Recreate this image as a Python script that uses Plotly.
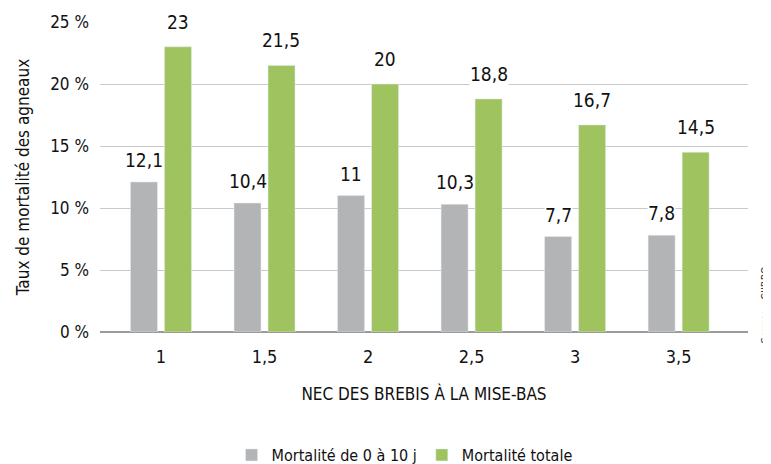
import plotly.graph_objects as go

categories = ["1", "1,5", "2", "2,5", "3", "3,5"]
mort_0_10 = [12.1, 10.4, 11, 10.3, 7.7, 7.8]
mort_totale = [23, 21.5, 20, 18.8, 16.7, 14.5]
series_names = ["Mortalité de 0 à 10 j", "Mortalité totale"]
y_ticks = [0, 5, 10, 15, 20, 25]
y_tick_labels = ["0 %", "5 %", "10 %", "15 %", "20 %", "25 %"]

FONT = "DejaVu Sans"
GRAY = "#b3b4b6"
GREEN = "#9fc45f"


def c(s):
    return '<span style="font-stretch:condensed">' + s + "</span>"


xs = list(range(len(categories)))

fig = go.Figure()
fig.add_trace(go.Bar(x=xs, y=mort_0_10, name=c(series_names[0]), marker_color=GRAY))
fig.add_trace(go.Bar(x=xs, y=mort_totale, name=c(series_names[1]), marker_color=GREEN))


def fmt(v):
    return ("%g" % v).replace(".", ",")


off = 0.164
annotations = []
for i, v in enumerate(mort_0_10):
    annotations.append(dict(x=i - off, y=v, text=c(fmt(v)), showarrow=False, yanchor="middle",
                            yshift=22, bgcolor="white", borderpad=0,
                            font=dict(size=19, color="#111", family=FONT)))
for i, v in enumerate(mort_totale):
    annotations.append(dict(x=i + off, y=v, text=c(fmt(v)), showarrow=False, yanchor="middle",
                            yshift=25, bgcolor="white", borderpad=0,
                            font=dict(size=19, color="#111", family=FONT)))
annotations.append(dict(x=1.0, y=0.0, xref="paper", yref="paper", xanchor="center", yanchor="bottom",
                        xshift=17, yshift=-14, text=c("Source : CIIRPO"), textangle=-90, showarrow=False,
                        font=dict(size=11, color="#333", family=FONT)))

fig.update_layout(
    width=771, height=464,
    margin=dict(l=92, r=31, t=14, b=140, autoexpand=False),
    plot_bgcolor="white", paper_bgcolor="white",
    barmode="group", bargap=0.343, bargroupgap=0.206,
    separators=", ",
    font=dict(family=FONT, color="#111", size=17),
    showlegend=True,
    legend=dict(orientation="h", x=0.47, xanchor="center", xref="paper",
                y=0.0, yanchor="bottom", yref="container",
                font=dict(size=16, family=FONT), traceorder="normal"),
    annotations=annotations,
    xaxis=dict(tickmode="array", tickvals=xs, ticktext=[c(t) for t in categories], range=[-0.589, 5.67],
               showgrid=False, zeroline=False, ticks="", tickfont=dict(size=18), ticklabelstandoff=12,
               title=dict(text=c("NEC DES BREBIS À LA MISE-BAS"), font=dict(size=17), standoff=22)),
    yaxis=dict(tickmode="array", tickvals=y_ticks, ticktext=[c(t) for t in y_tick_labels], range=[0, 25],
               showgrid=True, gridcolor="#c9c9c9", gridwidth=1, zeroline=True,
               zerolinecolor="#9a9a9a", zerolinewidth=2, ticks="", ticklabelstandoff=10,
               tickfont=dict(size=17),
               title=dict(text=c("Taux de mortalité des agneaux"), font=dict(size=17), standoff=16)),
)

fig.write_html("out.html")
